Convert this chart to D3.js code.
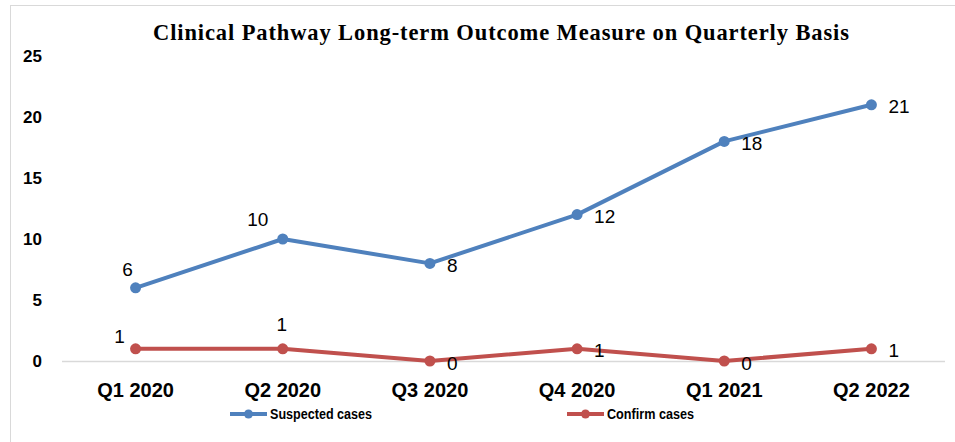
<!DOCTYPE html>
<html>
<head>
<meta charset="utf-8">
<script src="https://cdn.jsdelivr.net/npm/d3@7/dist/d3.min.js"></script>
<style>
  body { margin: 0; background: #fff; }
  text { fill: #000; }
  .title { font-family: "Liberation Serif", "Times New Roman", serif; font-weight: bold; font-size: 22.5px; }
  .ytick { font-family: "Liberation Sans", Arial, sans-serif; font-weight: bold; font-size: 17px; }
  .xtick { font-family: "Liberation Sans", Arial, sans-serif; font-weight: bold; font-size: 20px; }
  .dlabel { font-family: "Liberation Sans", Arial, sans-serif; font-size: 19px; }
  .legend { font-family: "Liberation Sans", Arial, sans-serif; font-weight: bold; font-size: 14.5px; }
</style>
</head>
<body>
<div id="chart"></div>
<script>
const quarters = ["Q1 2020", "Q2 2020", "Q3 2020", "Q4 2020", "Q1 2021", "Q2 2022"];
const suspected = [6, 10, 8, 12, 18, 21];
const confirmed = [1, 1, 0, 1, 0, 1];
const yTicks = [0, 5, 10, 15, 20, 25];

const SERIES = [
    {name: "Suspected cases", values: suspected, color: "#4F81BD", legendW: 102},
    {name: "Confirm cases", values: confirmed, color: "#C0504D", legendW: 87}
];

// label placement per point: "r" = right of marker, otherwise [dx, dy] offset of label centre
const LABEL_POS = {
    "Suspected cases": [[-8, -18], [-25, -20], "r", "r", "r", "r"],
    "Confirm cases": [[-16, -12], [-1, -24], "r", "r", "r", "r"]
};

const W = 955, H = 442;
const M = {left: 62, right: 10, top: 56, bottom: 81};

const svg = d3.select("#chart").append("svg")
    .attr("width", W)
    .attr("height", H);

// chart frame
svg.append("rect")
   .attr("x", 10.5).attr("y", 5.5)
   .attr("width", W).attr("height", H)
   .attr("fill", "none")
   .attr("stroke", "#d9d9d9");

svg.append("text")
   .classed("title", true)
   .attr("x", 153)
   .attr("y", 40)
   .attr("textLength", 696)
   .attr("lengthAdjust", "spacing")
   .text("Clinical Pathway Long-term Outcome Measure on Quarterly Basis");

var x = d3.scaleBand()
          .domain(quarters)
          .range([M.left, W - M.right]);
var y = d3.scaleLinear()
          .domain([0, 25])
          .range([H - M.bottom, M.top]);
var cx = (q) => x(q) + x.bandwidth() / 2;

// y axis labels (no axis line)
svg.append("g")
   .call(d3.axisLeft(y).tickValues(yTicks).tickSize(0).tickPadding(0))
   .attr("transform", "translate(42,0)")
   .call(g => g.select(".domain").remove())
   .selectAll("text")
   .attr("class", "ytick")
   .attr("fill", "#000");

// baseline
svg.append("line")
   .attr("x1", M.left).attr("x2", W - M.right)
   .attr("y1", y(0) + 0.5).attr("y2", y(0) + 0.5)
   .attr("stroke", "#d9d9d9")
   .attr("stroke-width", 1.5);

// x axis labels
svg.append("g")
   .attr("transform", "translate(0," + (y(0) + 22) + ")")
   .call(d3.axisBottom(x).tickSize(0).tickPadding(0))
   .call(g => g.select(".domain").remove())
   .selectAll("text")
   .attr("class", "xtick")
   .attr("fill", "#000");

var line = d3.line()
             .x((d, i) => cx(quarters[i]))
             .y((d) => y(d));

SERIES.forEach(function(s){
    var g = svg.append("g");
    g.append("path")
     .datum(s.values)
     .attr("d", line)
     .attr("fill", "none")
     .attr("stroke", s.color)
     .attr("stroke-width", 4)
     .attr("stroke-linejoin", "round");
    g.selectAll("circle")
     .data(s.values)
     .enter()
     .append("circle")
     .attr("cx", (d, i) => cx(quarters[i]))
     .attr("cy", (d) => y(d))
     .attr("r", 5.5)
     .attr("fill", s.color);
    g.selectAll("text")
     .data(s.values)
     .enter()
     .append("text")
     .classed("dlabel", true)
     .attr("dominant-baseline", "central")
     .attr("text-anchor", (d, i) => LABEL_POS[s.name][i] === "r" ? "start" : "middle")
     .attr("x", (d, i) => {
         var p = LABEL_POS[s.name][i];
         return cx(quarters[i]) + (p === "r" ? 17 : p[0]);
     })
     .attr("y", (d, i) => {
         var p = LABEL_POS[s.name][i];
         return y(d) + (p === "r" ? 2 : p[1]);
     })
     .text((d) => d);
});

// legend
var legendX = [230, 567];
var lg = svg.selectAll("g.leg")
            .data(SERIES)
            .enter()
            .append("g")
            .classed("leg", true)
            .attr("transform", (d, i) => "translate(" + legendX[i] + ",414)");
lg.append("line")
  .attr("x1", 0).attr("x2", 37)
  .attr("stroke", (d) => d.color)
  .attr("stroke-width", 4);
lg.append("circle")
  .attr("cx", 18.5)
  .attr("r", 4.5)
  .attr("fill", (d) => d.color);
lg.append("text")
  .classed("legend", true)
  .attr("x", 40)
  .attr("dominant-baseline", "central")
  .attr("textLength", (d) => d.legendW)
  .attr("lengthAdjust", "spacingAndGlyphs")
  .text((d) => d.name);
</script>
</body>
</html>
